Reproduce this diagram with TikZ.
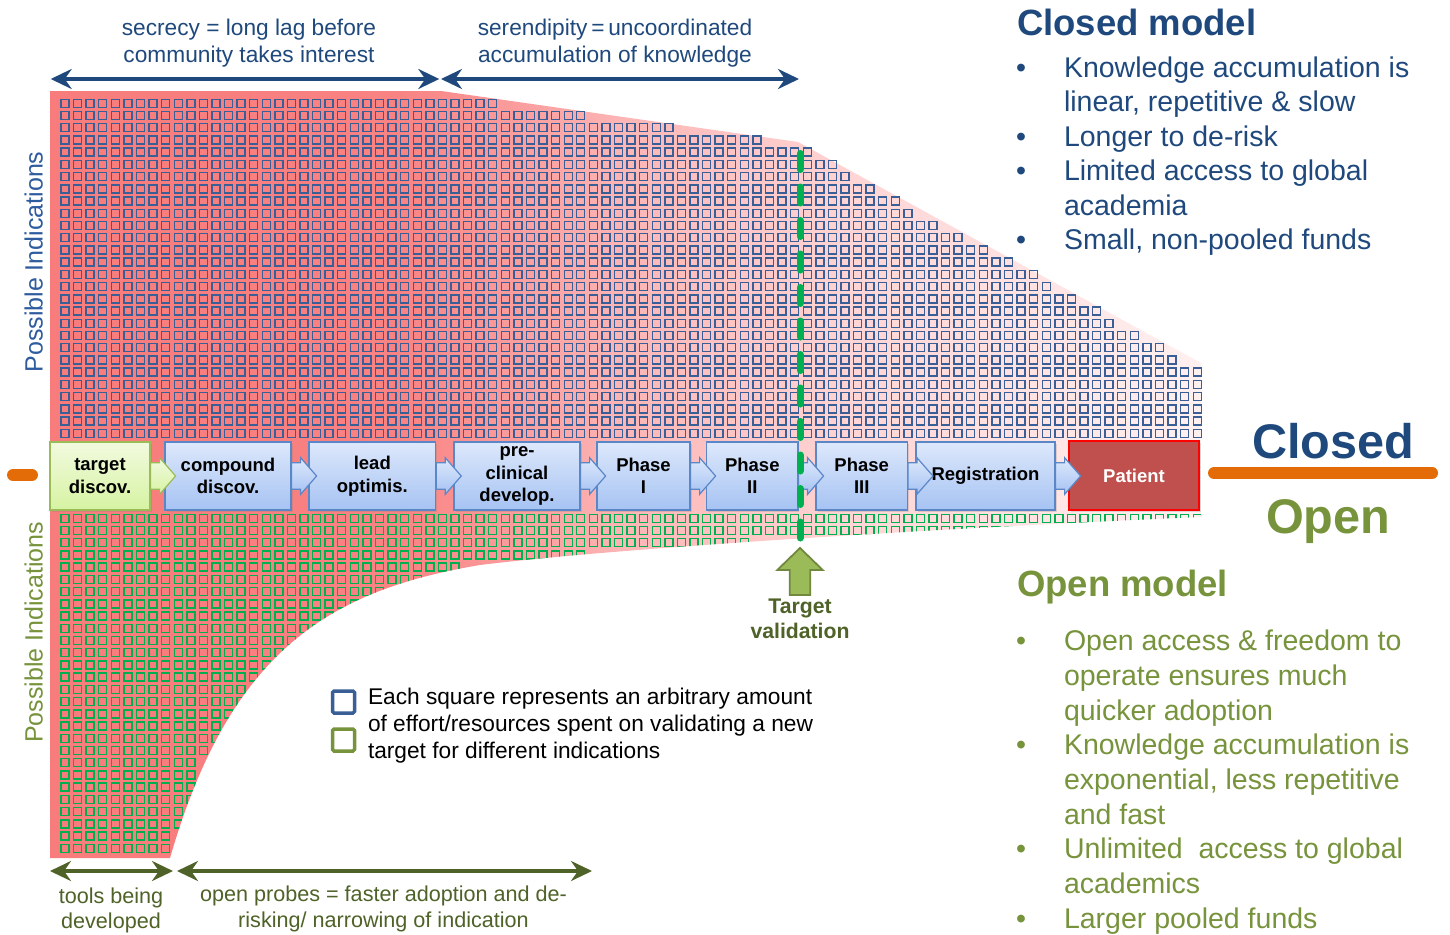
\documentclass[tikz,border=0pt]{standalone}
\usepackage{fontspec}
\setmainfont{Liberation Sans}
\usetikzlibrary{arrows.meta,shadows,calc}

\definecolor{cblue}{HTML}{1F497D}
\definecolor{lblue}{HTML}{2E5C9E}
\definecolor{ogreen}{HTML}{77933C}
\definecolor{dgreen}{HTML}{4F6228}
\definecolor{sqblue}{HTML}{3A5E96}
\definecolor{sqgreen}{HTML}{00B050}
\definecolor{orng}{HTML}{E36C09}
\definecolor{rA}{HTML}{F87C7C}
\definecolor{rB}{HTML}{F98282}
\definecolor{rC}{HTML}{FCB6B6}
\definecolor{rD}{HTML}{FFD5D5}
\definecolor{rE}{HTML}{FFF0F0}
\definecolor{boxtop}{HTML}{DDE8FB}
\definecolor{boxbot}{HTML}{A6C3F3}
\definecolor{boxline}{HTML}{5B87C7}
\definecolor{gboxtop}{HTML}{F2FADF}
\definecolor{gboxbot}{HTML}{D6F3A2}
\definecolor{gboxline}{HTML}{9BBB59}
\definecolor{patfill}{HTML}{C0504D}
\definecolor{tvfill}{HTML}{9BBB59}
\definecolor{tvline}{HTML}{71893F}
\definecolor{dashgreen}{HTML}{00B050}

\pgfdeclarehorizontalshading{redfade}{100bp}{color(0bp)=(rA); color(25bp)=(rA); color(40bp)=(rB); color(50bp)=(rC); color(60bp)=(rD); color(75bp)=(rE); color(100bp)=(rE)}

\newcommand\fsz[2]{\fontsize{#1}{#2}\selectfont}
\newcommand\mlines[2]{\begin{tabular}[t]{@{}#1@{}}#2\end{tabular}}
\newcommand\stagearrow[2]{\path[#2] (#1.east) +(0,-13.3) -- +(9,-13.3) -- +(9,-18.3) -- +(25,0) -- +(9,18.3) -- +(9,13.3) -- +(0,13.3) -- cycle;}

\begin{document}
\begin{tikzpicture}[x=1pt,y=-1pt,
  bsq/.style={draw=sqblue,line width=1.4},
  gsq/.style={draw=sqgreen,line width=1.4},
  stagebox/.style={draw=boxline,line width=1.2,top color=boxtop,bottom color=boxbot,
    font=\bfseries\fsz{18.5}{22.5},align=center,inner sep=0,minimum height=68,
    drop shadow={opacity=0.25,shadow xshift=1.5pt,shadow yshift=-2pt}},
  greenbox/.style={draw=gboxline,top color=gboxtop,bottom color=gboxbot},
  patientbox/.style={draw=red,line width=1.2,fill=patfill,text=white,
    font=\bfseries\fsz{18.5}{22.5},inner sep=0,
    drop shadow={opacity=0.25,shadow xshift=1.5pt,shadow yshift=-2pt}},
  bluearrow/.style={draw=boxline,line width=1.2,top color=boxtop,bottom color=boxbot},
  greenarrow/.style={draw=gboxline,line width=1.2,top color=gboxtop,bottom color=gboxbot},
  toparrow/.style={draw=cblue,line width=3.3,{Stealth[length=21pt,width=20pt,inset=7pt]}-{Stealth[length=21pt,width=20pt,inset=7pt]}},
  botarrow/.style={draw=dgreen,line width=3.3,{Stealth[length=21pt,width=20pt,inset=7pt]}-{Stealth[length=21pt,width=20pt,inset=7pt]}},
  txt/.style={inner sep=0,outer sep=0},
]
\useasboundingbox (0,0) rectangle (1450,934);
\fill[white] (0,0) rectangle (1450,934);

% red region
\shade[shading=redfade] (50,91) -- (441,91) -- (798,142) -- (1201,363) -- (1201,517)
  .. controls (900,530) and (600,550) .. (480,565)
  .. controls (330,590) and (230,650) .. (170,858) -- (50,858) -- cycle;

% blue squares
\foreach \n [count=\r from 0] in {34,41,48,55,59,61,62,64,66,67,69,71,73,75,77,78,80,82,83,85,87,88,90,90,90,90,90,90} {
  \pgfmathsetmacro\yy{103.3+\r*12.22}
  \draw[bsq] \foreach \c in {0,...,\n} { ({61+\c*12.58},{\yy-4}) rectangle ++(8,8) };
}

% green squares
\begin{scope}
\clip (50,91) -- (441,91) -- (798,142) -- (1201,363) -- (1201,517)
  .. controls (900,530) and (600,550) .. (480,565)
  .. controls (330,590) and (230,650) .. (170,858) -- (50,858) -- cycle;
\foreach \n [count=\r from 0] in {90,90,54,41,31,28,25,23,21,20,19,17,16,15,14,14,13,12,12,11,10,10,10,10,9,9,8,8} {
  \pgfmathsetmacro\yy{518.3+\r*12.22}
  \draw[gsq] \foreach \c in {0,...,\n} { ({61+\c*12.58},{\yy-4}) rectangle ++(8,8) };
}
\end{scope}

% stage boxes
\node[stagebox,greenbox,minimum width=100] (s1) at (100,476) {target\\discov.};
\node[stagebox,minimum width=126] (s2) at (228,476) {compound\\discov.};
\node[stagebox,minimum width=126.7] (s3) at (372.3,476) {lead\\optimis.};
\node[stagebox,minimum width=126] (s4) at (517,476) {pre-\\clinical\\develop.};
\node[stagebox,minimum width=93] (s5) at (643.5,476) {Phase\\I};
\node[stagebox,minimum width=91.3] (s6) at (752.3,476) {Phase\\II};
\node[stagebox,minimum width=91.3] (s7) at (861.7,476) {Phase\\III};
\node[stagebox,minimum width=139] (s8) at (985.5,476) {Registration};
\node[patientbox,minimum width=130,minimum height=69] (s9) at (1134,475.5) {Patient};

\stagearrow{s1}{greenarrow}
\stagearrow{s2}{bluearrow}
\stagearrow{s3}{bluearrow}
\stagearrow{s4}{bluearrow}
\stagearrow{s5}{bluearrow}
\stagearrow{s6}{bluearrow}
\stagearrow{s7}{bluearrow}
\stagearrow{s8}{bluearrow}

% target validation dashed line
\coordinate (dtop) at (800,153.5);
\coordinate (dbot) at (800,541);
\draw[dashgreen,line width=7,line cap=round,dash pattern=on 16 off 17.5] (dtop) -- (dbot);

% target validation arrow
\path[draw=tvline,fill=tvfill,line width=1.8] (800,548) -- (822.7,570) -- (810.3,570) -- (810.3,595)
  -- (789.7,595) -- (789.7,570) -- (777.3,570) -- cycle;
\node[txt,anchor=base,text=dgreen,font=\bfseries\fsz{21.2}{25}] (tv) at (800,613) {\mlines{c}{Target\\validation}};

% orange lines
\draw[orng,line width=12,line cap=round] (13,475) -- (32,475);
\draw[orng,line width=12,line cap=round] (1214,473) -- (1432,473);

% Closed / Open labels
\node[txt,anchor=base west,text=cblue,font=\bfseries\fsz{48.6}{52}] (closedlbl) at (1252,458.3) {Closed};
\node[txt,anchor=base west,text=ogreen,font=\bfseries\fsz{48.6}{52}] (openlbl) at (1266,533.3) {Open};

% top arrows and labels
\coordinate (ta1) at (50.7,79);
\coordinate (ta2) at (439.3,79);
\coordinate (ta3) at (441,79);
\coordinate (ta4) at (799,79);
\draw[toparrow] (ta1) -- (ta2);
\draw[toparrow] (ta3) -- (ta4);
\node[txt,anchor=base,text=cblue,font=\fsz{22.7}{27}] (secrecy) at (249,36) {\mlines{c}{secrecy = long lag before\\community takes interest}};
\node[txt,anchor=base,text=cblue,font=\fsz{22.7}{27}] (seren) at (615,36) {\mlines{c}{serendipity\,=\,uncoordinated\\accumulation of knowledge}};

% bottom arrows and labels
\coordinate (ba1) at (50,871);
\coordinate (ba2) at (173,871);
\coordinate (ba3) at (177,871);
\coordinate (ba4) at (592,871);
\draw[botarrow] (ba1) -- (ba2);
\draw[botarrow] (ba3) -- (ba4);
\node[txt,anchor=base,text=dgreen,font=\fsz{21.6}{25.5}] (tools) at (111,903) {\mlines{c}{tools being\\developed}};
\node[txt,anchor=base,text=dgreen,font=\fsz{21.6}{26}] (probes) at (383.5,901) {\mlines{c}{open probes = faster adoption and de-\\risking/ narrowing of indication}};

% side labels
\node[txt,rotate=90,text=lblue,font=\fsz{25}{30}] (pi1) at (33.6,262) {Possible Indications};
\node[txt,rotate=90,text=ogreen,font=\fsz{25}{30}] (pi2) at (33.6,632.5) {Possible Indications};

% legend
\node[draw=sqblue,line width=3.5,rounded corners=1.5,minimum size=22,inner sep=0] (legb) at (343.5,702) {};
\node[draw=ogreen,line width=3.5,rounded corners=1.5,minimum size=22,inner sep=0] (legg) at (343.5,740) {};
\node[txt,anchor=base west,font=\fsz{22.7}{27}] (legtxt) at (368,704) {\mlines{l}{Each square represents an arbitrary amount\\of effort/resources spent on validating a new\\target for different indications}};

% Closed model
\node[txt,anchor=base west,text=cblue,font=\bfseries\fsz{36.5}{40}] (cmtitle) at (1017,36) {Closed model};
\node[txt,anchor=base west,text=cblue,font=\fsz{28.5}{34.5}] (cmlist) at (1016,77.3) {\begin{tabular}[t]{@{}p{48pt}@{}l@{}}
\textbullet&Knowledge accumulation is\\
&linear, repetitive \& slow\\
\textbullet&Longer to de-risk\\
\textbullet&Limited access to global\\
&academia\\
\textbullet&Small, non-pooled funds
\end{tabular}};

% Open model
\node[txt,anchor=base west,text=ogreen,font=\bfseries\fsz{36.5}{40}] (omtitle) at (1017,596.7) {Open model};
\node[txt,anchor=base west,text=ogreen,font=\fsz{28.5}{34.7}] (omlist) at (1016,650.7) {\begin{tabular}[t]{@{}p{48pt}@{}l@{}}
\textbullet&Open access \& freedom to\\
&operate ensures much\\
&quicker adoption\\
\textbullet&Knowledge accumulation is\\
&exponential, less repetitive\\
&and fast\\
\textbullet&Unlimited\ \ access to global\\
&academics\\
\textbullet&Larger pooled funds
\end{tabular}};
\end{tikzpicture}
\end{document}
